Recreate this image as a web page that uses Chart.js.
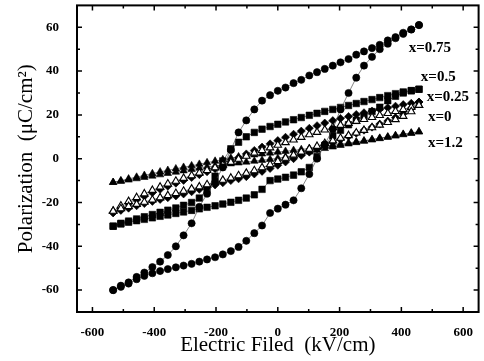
<!DOCTYPE html>
<html><head><meta charset="utf-8">
<script src="https://cdn.jsdelivr.net/npm/chart.js@4.4.1/dist/chart.umd.min.js"></script>
<style>html,body{margin:0;padding:0;background:#fff}#wrap{width:484px;height:361px}</style>
</head><body><div id="wrap"><canvas id="c" width="484" height="361"></canvas></div>
<script>
// Electric field sampling grid (kV/cm), increasing
const fieldGrid = [-533,-508,-483,-457,-432,-406,-381,-356,-330,-305,-279,-254,-229,-203,-178,-152,-127,-102,-76,-51,-25,0,25,51,76,102,127,152,178,203,229,254,279,305,330,356,381,406,432,457];
const seriesNames = ['x=0.75','x=0.5','x=0.25','x=0','x=1.2'];
// Polarization (uC/cm2): "Up" = descending-field branch, "Down" = ascending-field branch, listed at fieldGrid
const p075Up   = [-60,-58,-56.5,-54,-52,-49.5,-47,-44,-40,-35,-29.5,-22,-16,-10.5,-4,4,12,17.5,22.5,26.5,29,31,32.5,34.5,36,38,39.5,41,42.5,44,45.5,47.5,49,50.5,52,54,55.5,57.5,59,61];
const p075Down = [-60,-58.5,-57,-55,-53.5,-52.3,-51.3,-50.4,-49.6,-48.8,-48,-47,-46,-45,-43.7,-42.2,-40.3,-37.5,-34,-30.5,-24.8,-22.8,-21,-19,-13.5,-7,0,6.5,13.5,22.5,30,37,42.5,46.5,50,52.5,55,57,59,61];
const p05Up    = [-30.8,-29.5,-28.5,-27.5,-26.5,-25.5,-24.5,-23.5,-22.5,-21.3,-20,-18,-14,-8,-1,4.5,7.5,10,12,13.5,14.7,15.7,16.8,17.8,18.8,19.8,20.7,21.6,22.5,23.4,24.3,25.2,26.1,27,27.9,28.8,29.7,30.5,31.1,31.7];
const p05Down  = [-30.8,-29.8,-29,-28.3,-27.7,-27,-26.3,-25.7,-25,-24.3,-23.6,-22.9,-22.2,-21.5,-20.7,-19.9,-19,-18,-16.5,-14,-10,-9.3,-8.5,-7.5,-6,-4,1,6,10.5,13,15.5,17.5,19.5,21.5,23.5,26.5,28.5,30,31,31.7];
const p025Up   = [-24.7,-22.5,-20.6,-18.8,-17.1,-15.5,-14,-12.6,-11.2,-9.9,-8.6,-7.3,-6,-4.6,-3.1,-1.4,0.4,2.2,3.8,5.3,6.8,8.3,9.8,11.2,12.6,13.9,15.1,16.3,17.4,18.4,19.3,20.2,21,21.8,22.6,23.3,24,24.7,25.3,25.9];
const p025Down = [-24.7,-23.6,-22.6,-21.5,-20.5,-19.5,-18.6,-17.8,-17,-16.1,-15.1,-14,-13,-12,-11,-10,-9.2,-8.2,-7,-5.8,-4.5,-3,-1.5,0,1.5,3,4.5,6,7.4,8.8,10.2,11.6,13,14.4,15.8,17.2,18.8,20.5,23,25.9];
const p0Up     = [-23.9,-21.5,-19.5,-17.7,-16,-14.4,-12.9,-11.5,-10.2,-8.9,-7.7,-6.5,-5.3,-4.1,-2.9,-1.6,-0.2,1.2,2.6,3.8,5,6.2,7.4,8.6,9.8,11,12.1,13.2,14.3,15.3,16.2,17.1,18,18.9,19.8,20.7,21.6,22.5,23.5,24.4];
const p0Down   = [-23.9,-22.8,-21.8,-20.8,-19.8,-18.8,-17.8,-16.8,-15.8,-14.8,-13.8,-12.8,-11.8,-10.8,-9.8,-8.8,-7.7,-6.6,-5.4,-4.1,-2.7,-1.2,0.3,1.7,3.1,4.4,5.7,7,8.2,9.4,10.6,11.8,13,14.2,15.4,16.6,17.9,19.4,21.5,24.4];
const p12Up    = [-10.8,-10,-9.2,-8.4,-7.6,-6.8,-6,-5.3,-4.6,-3.9,-3.2,-2.5,-1.8,-1.1,-0.4,0.3,0.9,1.4,1.8,2.2,2.6,3,3.4,3.8,4.2,4.7,5.2,5.7,6.2,6.7,7.2,7.7,8.2,8.8,9.4,10,10.6,11.2,11.8,12.3];
const p12Down  = [-10.8,-10.3,-9.7,-9.1,-8.5,-7.9,-7.3,-6.7,-6.1,-5.5,-4.9,-4.3,-3.8,-3.3,-2.8,-2.3,-1.9,-1.5,-1.1,-0.7,-0.3,0.2,0.8,1.5,2.3,3.1,3.9,4.7,5.4,6.1,6.8,7.4,8,8.6,9.2,9.8,10.4,11,11.6,12.3];
const xTicks = [-600,-400,-200,0,200,400,600];
const xMinorTicks = [-500,-300,-100,100,300,500];
const yTicks = [-60,-40,-20,0,20,40,60];
const yMinorTicks = [-50,-30,-10,10,30,50];

function loop(up, down){
  const pts = [];
  for (let i = fieldGrid.length - 1; i >= 0; i--) pts.push({x: fieldGrid[i], y: up[i]});
  for (let i = 0; i < fieldGrid.length; i++) pts.push({x: fieldGrid[i], y: down[i]});
  return pts;
}
const SERIF = "'Liberation Serif','Times New Roman',serif";
const lineCol = 'rgba(60,60,60,0.9)';
function ds(label, up, down, style, r, fill, order){
  return {label, data: loop(up, down), showLine: true, borderColor: lineCol, borderWidth: 0.7,
    pointStyle: style, pointRadius: r, pointHoverRadius: r, pointBackgroundColor: fill,
    pointBorderColor: '#000', pointBorderWidth: fill === '#fff' ? 1.1 : 0.6, order};
}
const datasets = [
  ds(seriesNames[0], p075Up, p075Down, 'circle', 3.6, '#000', 0),
  ds(seriesNames[1], p05Up, p05Down, 'rect', 4.6, '#000', 2),
  ds(seriesNames[2], p025Up, p025Down, 'rectRot', 4.0, '#000', 3),
  ds(seriesNames[3], p0Up, p0Down, 'triangle', 4.3, '#fff', 1),
  ds(seriesNames[4], p12Up, p12Down, 'triangle', 4.3, '#000', 4)
];

const labelAnchors = [[424,50.5],[463,37.4],[482,27.9],[486,19.1],[486,7]];
const framePlugin = {
  id: 'frame',
  afterDatasetsDraw(chart){
    const {ctx, chartArea: a, scales: {x, y}} = chart;
    ctx.save();
    ctx.strokeStyle = '#000';
    ctx.lineWidth = 2;
    ctx.strokeRect(a.left, a.top, a.right - a.left, a.bottom - a.top);
    ctx.lineWidth = 1.5;
    ctx.beginPath();
    const xt = (vals, len) => vals.forEach(v => { const p = x.getPixelForValue(v);
      ctx.moveTo(p, a.bottom); ctx.lineTo(p, a.bottom - len); ctx.moveTo(p, a.top); ctx.lineTo(p, a.top + len); });
    const yt = (vals, len) => vals.forEach(v => { const p = y.getPixelForValue(v);
      ctx.moveTo(a.left, p); ctx.lineTo(a.left + len, p); ctx.moveTo(a.right, p); ctx.lineTo(a.right - len, p); });
    xt(xTicks, 5); xt(xMinorTicks, 3); yt(yTicks, 5); yt(yMinorTicks, 3);
    ctx.stroke();
    ctx.fillStyle = '#000';
    ctx.font = "bold 15px " + SERIF;
    ctx.textAlign = 'left'; ctx.textBaseline = 'middle';
    seriesNames.forEach((n, i) => {
      ctx.fillText(n, x.getPixelForValue(labelAnchors[i][0]), y.getPixelForValue(labelAnchors[i][1]));
    });
    ctx.restore();
  }
};

new Chart(document.getElementById('c'), {
  type: 'scatter',
  data: {datasets},
  options: {
    responsive: false, animation: false, devicePixelRatio: 1,
    layout: {padding: {top: 5, right: 5, left: 0, bottom: 0}},
    plugins: {legend: {display: false}, tooltip: {enabled: false}},
    scales: {
      x: {type: 'linear', position: 'bottom', min: -650, max: 650,
        grid: {display: false}, border: {display: false},
        afterBuildTicks: s => { s.ticks = xTicks.map(v => ({value: v})); },
        afterFit: s => { s.height = 49; s.paddingLeft = 0; s.paddingRight = 0; },
        ticks: {color: '#000', padding: 5, font: {family: SERIF, size: 13, weight: 'bold'}},
        title: {display: true, text: 'Electric Filed  (kV/cm)', color: '#000',
          font: {family: SERIF, size: 21}, padding: {top: 0, bottom: 3}}},
      y: {type: 'linear', position: 'left', min: -70, max: 70,
        grid: {display: false}, border: {display: false},
        afterBuildTicks: s => { s.ticks = yTicks.map(v => ({value: v})); },
        afterFit: s => { s.width = 77; s.paddingTop = 0; s.paddingBottom = 0; },
        ticks: {color: '#000', padding: 10, font: {family: SERIF, size: 13, weight: 'bold'}},
        title: {display: true, text: 'Polarization  (μC/cm²)', color: '#000',
          font: {family: SERIF, size: 21}, padding: {top: 14, bottom: 0}}}
    }
  },
  plugins: [framePlugin]
});
</script></body></html>
